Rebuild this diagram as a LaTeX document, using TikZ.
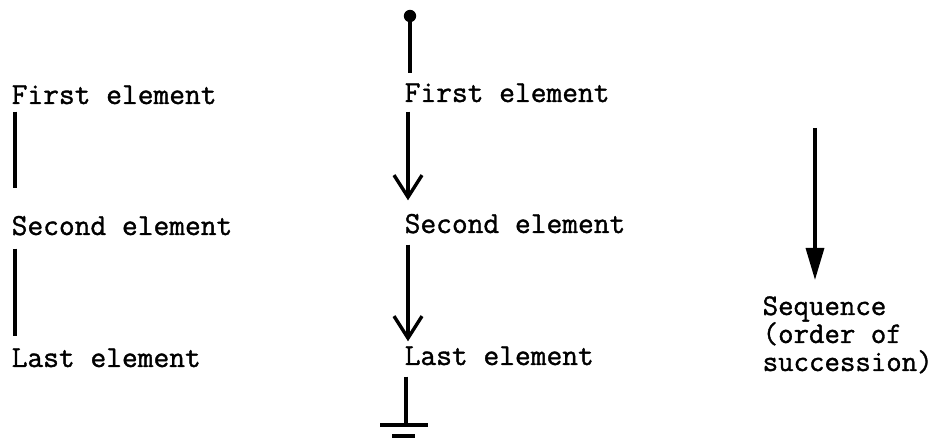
\documentclass[tikz,border=0pt]{standalone}
\usepackage{fontspec}
\newfontfamily\typefont[FakeBold=1.2]{Latin Modern Mono}
\usetikzlibrary{arrows.meta}
\begin{document}
\begin{tikzpicture}[x=0.5pt,y=-0.5pt,line width=1.7pt,
  elem/.style={anchor=base west,inner sep=0pt,text height=9pt,text depth=2pt,font=\typefont\fontsize{15.3pt}{14pt}\selectfont},
  barb/.style={-{Straight Barb[length=11pt,width=14pt,line width=1.7pt]}},
  seqarrow/.style={-{Triangle[length=16pt,width=9pt]}}]
\useasboundingbox (0,0) rectangle (939,443);
\node[elem] (l1) at (10,104) {First element};
\node[elem] (l2) at (10,235) {Second element};
\node[elem] (l3) at (10,367) {Last element};
\draw[shorten <=1pt,shorten >=13.5pt] ([xshift=2.5pt]l1.south west) -- ([xshift=2.5pt]l2.north west);
\draw[shorten <=4pt,shorten >=5.5pt] ([xshift=2.5pt]l2.south west) -- ([xshift=2.5pt]l3.north west);
\node[elem] (m1) at (403,102) {First element};
\node[elem] (m2) at (403,233) {Second element};
\node[elem] (m3) at (403,365) {Last element};
\coordinate (top) at (410,16);
\coordinate (gnd) at (406,425);
\fill (top) circle (3.1pt);
\draw[shorten >=4.5pt] (top) -- (top |- m1.north);
\draw[barb,shorten <=2pt,shorten >=6.5pt] ([xshift=2.5pt]m1.south west) -- ([xshift=2.5pt]m2.north west);
\draw[barb,shorten <=3pt,shorten >=2pt] ([xshift=2.5pt]m2.south west) -- ([xshift=2.5pt]m3.north west);
\draw[shorten <=3pt] (gnd |- m3.south) -- (gnd);
\draw ([xshift=-13pt]gnd) -- ([xshift=11pt]gnd);
\draw ([shift={(-14,11)}]gnd) -- ([shift={(9,11)}]gnd);
\coordinate (seqtop) at (815,128);
\coordinate (seqtip) at (815,280);
\draw[seqarrow] (seqtop) -- (seqtip);
\node[elem,align=left,text height=,text depth=,font=\typefont\fontsize{15pt}{14pt}\selectfont] (seq) at (761,371) {Sequence\\(order of\\succession)};
\end{tikzpicture}
\end{document}
